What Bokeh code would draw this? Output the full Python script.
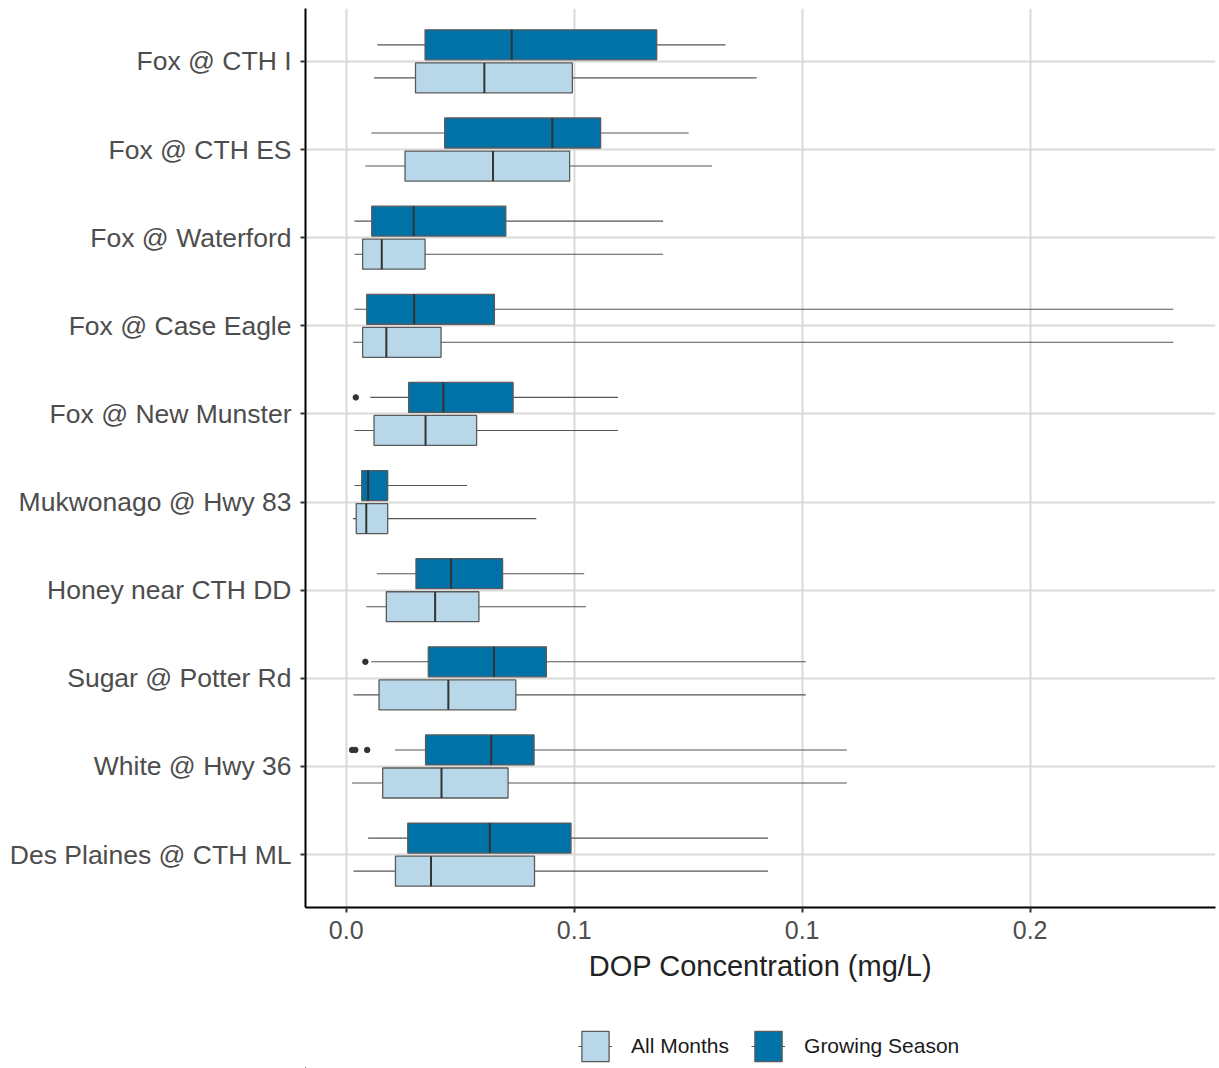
from bokeh.plotting import figure
from bokeh.layouts import column
from bokeh.models import (ColumnDataSource, FactorRange, Range1d, FixedTicker,
                          Legend, LegendItem)
from bokeh.transform import dodge
from bokeh.embed import file_html
from bokeh.resources import INLINE

# ---------------- data ----------------
sites = ["Fox @ CTH I", "Fox @ CTH ES", "Fox @ Waterford", "Fox @ Case Eagle",
         "Fox @ New Munster", "Mukwonago @ Hwy 83", "Honey near CTH DD",
         "Sugar @ Potter Rd", "White @ Hwy 36", "Des Plaines @ CTH ML"]

# Growing Season
gs_low  = [0.0068, 0.0055, 0.0018, 0.0018, 0.0053, 0.0018, 0.0067, 0.0055, 0.0107, 0.0048]
gs_q1   = [0.0173, 0.0216, 0.0056, 0.0045, 0.0137, 0.0034, 0.0153, 0.0180, 0.0174, 0.0135]
gs_med  = [0.0363, 0.0452, 0.0148, 0.0149, 0.0213, 0.0048, 0.0230, 0.0324, 0.0318, 0.0315]
gs_q3   = [0.0681, 0.0558, 0.0350, 0.0325, 0.0366, 0.0091, 0.0343, 0.0439, 0.0412, 0.0493]
gs_high = [0.0832, 0.0751, 0.0695, 0.1814, 0.0596, 0.0265, 0.0522, 0.1008, 0.1098, 0.0925]

# All Months
am_low  = [0.0061, 0.0042, 0.0018, 0.0015, 0.0018, 0.0015, 0.0044, 0.0016, 0.0013, 0.0016]
am_q1   = [0.0152, 0.0129, 0.0036, 0.0036, 0.0061, 0.0022, 0.0088, 0.0072, 0.0080, 0.0108]
am_med  = [0.0303, 0.0322, 0.0078, 0.0088, 0.0174, 0.0044, 0.0195, 0.0224, 0.0209, 0.0186]
am_q3   = [0.0496, 0.0490, 0.0173, 0.0208, 0.0286, 0.0091, 0.0291, 0.0372, 0.0355, 0.0413]
am_high = [0.0900, 0.0802, 0.0695, 0.1814, 0.0596, 0.0417, 0.0526, 0.1008, 0.1098, 0.0925]

# Growing Season outliers
out_sites  = ["Fox @ New Munster", "Sugar @ Potter Rd", "White @ Hwy 36",
              "White @ Hwy 36", "White @ Hwy 36"]
out_values = [0.0021, 0.0042, 0.0013, 0.0020, 0.0046]

x_ticks = [0.0, 0.05, 0.10, 0.15]
x_tick_labels = ["0.0", "0.1", "0.1", "0.2"]

series_labels = ["All Months", "Growing Season"]

GS_COLOR = "#0072A7"
AM_COLOR = "#B8D8EA"
FONT = "Liberation Sans"
WHISK = dict(line_color="#555555", line_width=1.1)
BOXLINE = dict(line_color="#5a5a5a", line_width=1.3)

# ---------------- main figure ----------------
p = figure(width=1219, height=1000,
           y_range=FactorRange(factors=list(reversed(sites)),
                               range_padding=0.1, range_padding_units="absolute"),
           x_range=Range1d(-0.00893, 0.19066),
           output_backend="svg", toolbar_location=None,
           min_border_left=305, min_border_right=4,
           min_border_top=8, min_border_bottom=93)

p.outline_line_color = None
p.background_fill_color = "white"
p.border_fill_color = "white"

OFF = 0.1875
BOX_H = 0.34


def draw_group(low, q1, med, q3, high, off, color):
    src = ColumnDataSource(dict(site=sites, low=low, q1=q1, med=med, q3=q3, high=high))
    yc = dodge("site", off, range=p.y_range)
    p.segment(x0="low", y0=yc, x1="high", y1=yc, source=src, **WHISK)
    p.hbar(y=yc, left="q1", right="q3", height=BOX_H, source=src,
           fill_color=color, **BOXLINE)
    p.segment(x0="med", x1="med",
              y0=dodge("site", off - BOX_H / 2, range=p.y_range),
              y1=dodge("site", off + BOX_H / 2, range=p.y_range),
              source=src, line_color="#333333", line_width=2)
    return src


gs_src = draw_group(gs_low, gs_q1, gs_med, gs_q3, gs_high, OFF, GS_COLOR)
am_src = draw_group(am_low, am_q1, am_med, am_q3, am_high, -OFF, AM_COLOR)

out_src = ColumnDataSource(dict(site=out_sites, v=out_values))
p.scatter(x="v", y=dodge("site", OFF, range=p.y_range), source=out_src,
          size=5.5, color="#333333")

# axes
p.xaxis.ticker = FixedTicker(ticks=x_ticks)
p.xaxis.major_label_overrides = {t: l for t, l in zip(x_ticks, x_tick_labels)}
p.xaxis.axis_label = "DOP Concentration (mg/L)"
p.xaxis.axis_label_text_font = FONT
p.xaxis.axis_label_text_font_size = "29px"
p.xaxis.axis_label_text_font_style = "normal"
p.xaxis.axis_label_text_color = "#222222"
p.xaxis.axis_label_standoff = 8
p.xaxis.major_label_standoff = 8

for ax in (p.xaxis, p.yaxis):
    ax.axis_line_color = "black"
    ax.axis_line_width = 2
    ax.major_tick_line_color = "#333333"
    ax.major_tick_line_width = 2
    ax.major_tick_out = 5
    ax.major_tick_in = 0
    ax.minor_tick_line_color = None
    ax.major_label_text_font = FONT
    ax.major_label_text_color = "#4D4D4D"

p.xaxis.major_label_text_font_size = "25px"
p.yaxis.major_label_text_font_size = "26.5px"
p.yaxis.major_label_standoff = 9

p.xgrid.grid_line_color = "#DADADA"
p.xgrid.grid_line_width = 2
p.ygrid.grid_line_color = "#DADADA"
p.ygrid.grid_line_width = 2

# ---------------- legend strip ----------------
# Legend-only renderers share the series' styles and sources; the strip's
# ranges keep their own marks out of view so only the legend keys show.
lg = figure(width=1219, height=68, x_range=Range1d(1.0, 2.0), y_range=Range1d(10.0, 11.0),
            x_axis_type=None, y_axis_type=None,
            output_backend="svg", toolbar_location=None,
            min_border_left=0, min_border_right=0,
            min_border_top=0, min_border_bottom=0)
lg.outline_line_color = None
lg.xgrid.visible = False
lg.ygrid.visible = False
lg.background_fill_color = "white"
lg.border_fill_color = "white"

items = []
for label, color, src in zip(series_labels, [AM_COLOR, GS_COLOR], [am_src, gs_src]):
    w = lg.segment(x0="low", y0=0.5, x1="high", y1=0.5, source=src, **WHISK)
    b = lg.hbar(y=0.5, left="q1", right="q3", height=0, source=src,
                fill_color=color, **BOXLINE)
    items.append(LegendItem(label=label, renderers=[w, b], index=0))

legend = Legend(items=items, orientation="horizontal", location=(273, 3),
                glyph_width=34, glyph_height=38, label_standoff=19, spacing=22,
                padding=0, margin=0, border_line_color=None,
                background_fill_alpha=0,
                label_text_font=FONT, label_text_font_size="21px",
                label_text_color="#1a1a1a")
lg.add_layout(legend, "center")

layout = column(p, lg, spacing=0)
open("out.html", "w").write(file_html(layout, INLINE))
